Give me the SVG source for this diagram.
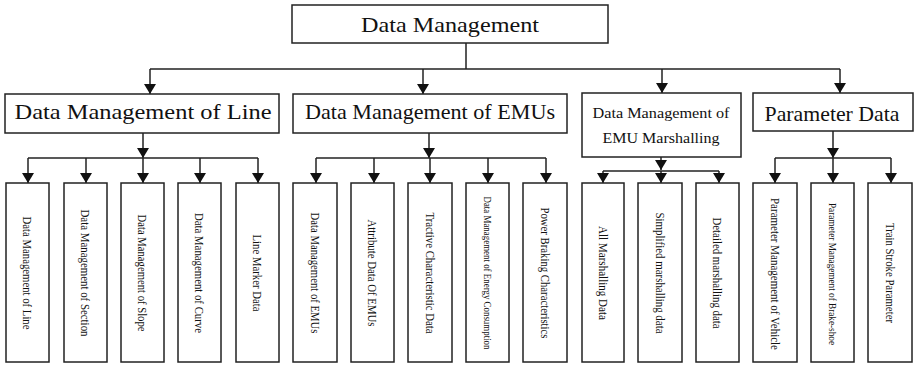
<svg xmlns="http://www.w3.org/2000/svg" width="915" height="365" viewBox="0 0 915 365">
<style>
.box{fill:#fff;stroke:#222;stroke-width:1.5}
.t{font-family:"Liberation Serif","Times New Roman",serif;fill:#111;text-anchor:middle}
.lf{font-size:12px}
.sm{font-size:9.5px}
.c{fill:none;stroke:#222;stroke-width:1.5}
</style>
<defs>
<marker id="ah" markerUnits="userSpaceOnUse" markerWidth="10" markerHeight="12" viewBox="0 0 10 12" refX="10" refY="6" orient="auto">
<path d="M0,0 L10,6 L0,12 z" fill="#111"/>
</marker>
</defs>
<rect width="915" height="365" fill="#fff"/>
<g id="connectors">
<path class="c" d="M466,43 V69 M150,69 H840"/>
<line class="c" x1="150" y1="69" x2="150" y2="94" marker-end="url(#ah)"/>
<line class="c" x1="423" y1="69" x2="423" y2="94" marker-end="url(#ah)"/>
<line class="c" x1="662" y1="69" x2="662" y2="93" marker-end="url(#ah)"/>
<line class="c" x1="840" y1="69" x2="840" y2="93" marker-end="url(#ah)"/>
<line class="c" x1="143" y1="133" x2="143" y2="158" marker-end="url(#ah)"/>
<path class="c" d="M28,158 H258"/>
<line class="c" x1="28" y1="158" x2="28" y2="183" marker-end="url(#ah)"/>
<line class="c" x1="86" y1="158" x2="86" y2="183" marker-end="url(#ah)"/>
<line class="c" x1="143" y1="158" x2="143" y2="183" marker-end="url(#ah)"/>
<line class="c" x1="200" y1="158" x2="200" y2="183" marker-end="url(#ah)"/>
<line class="c" x1="258" y1="158" x2="258" y2="183" marker-end="url(#ah)"/>
<line class="c" x1="429" y1="133" x2="429" y2="158" marker-end="url(#ah)"/>
<path class="c" d="M316,158 H546"/>
<line class="c" x1="316" y1="158" x2="316" y2="183" marker-end="url(#ah)"/>
<line class="c" x1="374" y1="158" x2="374" y2="183" marker-end="url(#ah)"/>
<line class="c" x1="430" y1="158" x2="430" y2="183" marker-end="url(#ah)"/>
<line class="c" x1="488" y1="158" x2="488" y2="183" marker-end="url(#ah)"/>
<line class="c" x1="546" y1="158" x2="546" y2="183" marker-end="url(#ah)"/>
<line class="c" x1="661" y1="157" x2="661" y2="170" marker-end="url(#ah)"/>
<path class="c" d="M603,171 H719"/>
<line class="c" x1="603" y1="171" x2="603" y2="183" marker-end="url(#ah)"/>
<line class="c" x1="661" y1="171" x2="661" y2="183" marker-end="url(#ah)"/>
<line class="c" x1="719" y1="171" x2="719" y2="183" marker-end="url(#ah)"/>
<line class="c" x1="833" y1="131" x2="833" y2="158" marker-end="url(#ah)"/>
<path class="c" d="M775,158 H891"/>
<line class="c" x1="775" y1="158" x2="775" y2="183" marker-end="url(#ah)"/>
<line class="c" x1="833" y1="158" x2="833" y2="183" marker-end="url(#ah)"/>
<line class="c" x1="891" y1="158" x2="891" y2="183" marker-end="url(#ah)"/>
</g>
<g id="root"><rect class="box" x="292" y="5" width="316" height="38"/><text class="t" x="450" y="32" font-size="22" textLength="178" lengthAdjust="spacingAndGlyphs">Data Management</text></g>
<g id="line"><rect class="box" x="5" y="94" width="274" height="39"/><text class="t" x="143" y="119" font-size="22" textLength="257" lengthAdjust="spacingAndGlyphs">Data Management of Line</text></g>
<g id="emus"><rect class="box" x="293" y="94" width="274" height="39"/><text class="t" x="430" y="119" font-size="22" textLength="250" lengthAdjust="spacingAndGlyphs">Data Management of EMUs</text></g>
<g id="marshalling"><rect class="box" x="582" y="93" width="159" height="64"/><text class="t" x="661" y="118" font-size="15" textLength="137" lengthAdjust="spacingAndGlyphs">Data Management of</text><text class="t" x="661" y="143" font-size="15" textLength="117" lengthAdjust="spacingAndGlyphs">EMU Marshalling</text></g>
<g id="param"><rect class="box" x="753" y="93" width="160" height="38"/><text class="t" x="832" y="121" font-size="21" textLength="135" lengthAdjust="spacingAndGlyphs">Parameter Data</text></g>
<g id="l1"><rect class="box" x="6" y="183" width="43" height="179"/><text class="t lf" transform="translate(27.5,273) rotate(90)" dy="0.35em" textLength="113" lengthAdjust="spacingAndGlyphs">Data Management of Line</text></g>
<g id="l2"><rect class="box" x="64" y="183" width="43" height="179"/><text class="t lf" transform="translate(85.5,273) rotate(90)" dy="0.35em" textLength="127" lengthAdjust="spacingAndGlyphs">Data Management of Section</text></g>
<g id="l3"><rect class="box" x="121" y="183" width="43" height="179"/><text class="t lf" transform="translate(142.5,273) rotate(90)" dy="0.35em" textLength="117" lengthAdjust="spacingAndGlyphs">Data Management of Slope</text></g>
<g id="l4"><rect class="box" x="178" y="183" width="43" height="179"/><text class="t lf" transform="translate(199.5,273) rotate(90)" dy="0.35em" textLength="120" lengthAdjust="spacingAndGlyphs">Data Management of Curve</text></g>
<g id="l5"><rect class="box" x="236" y="183" width="43" height="179"/><text class="t lf" transform="translate(257.5,273) rotate(90)" dy="0.35em" textLength="77" lengthAdjust="spacingAndGlyphs">Line Marker Data</text></g>
<g id="e1"><rect class="box" x="293" y="183" width="44" height="179"/><text class="t lf" transform="translate(315,273) rotate(90)" dy="0.35em" textLength="121" lengthAdjust="spacingAndGlyphs">Data Management of EMUs</text></g>
<g id="e2"><rect class="box" x="351" y="183" width="43" height="179"/><text class="t lf" transform="translate(372.5,273) rotate(90)" dy="0.35em" textLength="107" lengthAdjust="spacingAndGlyphs">Attribute Data Of EMUs</text></g>
<g id="e3"><rect class="box" x="408" y="183" width="44" height="179"/><text class="t lf" transform="translate(430,273) rotate(90)" dy="0.35em" textLength="121" lengthAdjust="spacingAndGlyphs">Tractive Characteristic Data</text></g>
<g id="e4"><rect class="box" x="466" y="183" width="43" height="179"/><text class="t sm" transform="translate(487.5,273) rotate(90)" dy="0.35em" textLength="153" lengthAdjust="spacingAndGlyphs">Data Management of Energy Consumption</text></g>
<g id="e5"><rect class="box" x="523" y="183" width="44" height="179"/><text class="t lf" transform="translate(545,273) rotate(90)" dy="0.35em" textLength="131" lengthAdjust="spacingAndGlyphs">Power Braking Characteristics</text></g>
<g id="m1"><rect class="box" x="582" y="183" width="42" height="179"/><text class="t lf" transform="translate(603,273) rotate(90)" dy="0.35em" textLength="94" lengthAdjust="spacingAndGlyphs">All Marshalling Data</text></g>
<g id="m2"><rect class="box" x="638" y="183" width="44" height="179"/><text class="t lf" transform="translate(660,273) rotate(90)" dy="0.35em" textLength="121" lengthAdjust="spacingAndGlyphs">Simplified marshalling data</text></g>
<g id="m3"><rect class="box" x="696" y="183" width="43" height="179"/><text class="t lf" transform="translate(717.5,273) rotate(90)" dy="0.35em" textLength="111" lengthAdjust="spacingAndGlyphs">Detailed marshalling data</text></g>
<g id="p1"><rect class="box" x="753" y="183" width="44" height="179"/><text class="t lf" transform="translate(775,274) rotate(90)" dy="0.35em" textLength="152" lengthAdjust="spacingAndGlyphs">Parameter Management of Vehicle</text></g>
<g id="p2"><rect class="box" x="811" y="183" width="43" height="179"/><text class="t sm" transform="translate(832.5,274) rotate(90)" dy="0.35em" textLength="142" lengthAdjust="spacingAndGlyphs">Parameter Management of Brake-shoe</text></g>
<g id="p3"><rect class="box" x="868" y="183" width="44" height="179"/><text class="t lf" transform="translate(890,273) rotate(90)" dy="0.35em" textLength="100" lengthAdjust="spacingAndGlyphs">Train Stroke Parameter</text></g>
</svg>
